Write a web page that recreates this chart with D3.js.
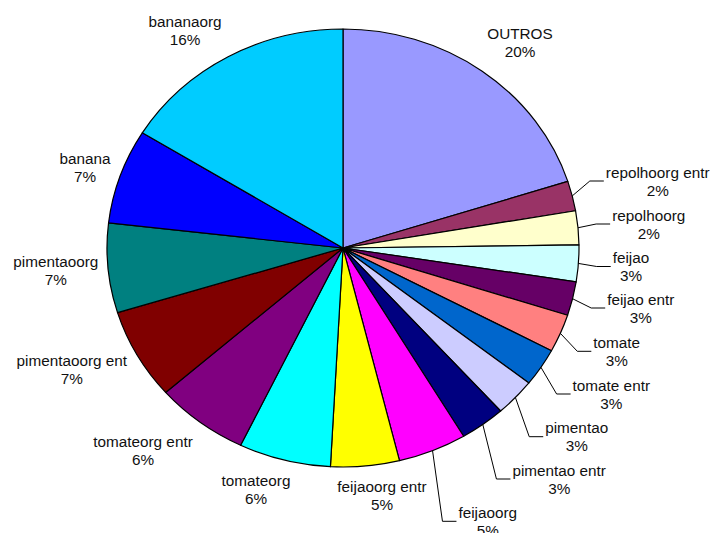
<!DOCTYPE html>
<html><head><meta charset="utf-8">
<script src="https://cdn.jsdelivr.net/npm/d3@7"></script>
<style>html,body{margin:0;padding:0;background:#fff;}svg{display:block;}</style>
</head><body>
<svg id="c" width="712" height="533"></svg>
<script>
// Data (clockwise from 12 o'clock)
const categories = ["OUTROS","repolhoorg entr","repolhoorg","feijao","feijao entr","tomate","tomate entr","pimentao","pimentao entr","feijaoorg","feijaoorg entr","tomateorg","tomateorg entr","pimentaoorg ent","pimentaoorg","banana","bananaorg"];
const values = [20.1,2.2,2.5,2.7,2.5,2.8,2.8,2.8,3.1,4.7,4.7,6.3,6.4,6.7,6.6,7.0,16.2];
const pctLabels = ["20%","2%","2%","3%","3%","3%","3%","3%","3%","5%","5%","6%","6%","7%","7%","7%","16%"];
const colors = ["#9999FF","#993366","#FFFFCC","#CCFFFF","#660066","#FF8080","#0066CC","#CCCCFF","#000080","#FF00FF","#FFFF00","#00FFFF","#800080","#800000","#008080","#0000FF","#00CCFF"];

// Layout (label centres of first line; leader flag)
const labelLayout = [
  {x:520,y:33,lead:false},{x:657.7,y:172,lead:true},{x:648.7,y:215,lead:true},{x:631,y:257.5,lead:true},
  {x:640.8,y:299,lead:true},{x:616.7,y:342.3,lead:true},{x:611.3,y:385,lead:true},{x:576.7,y:427.7,lead:true},
  {x:559.2,y:470,lead:true},{x:487.8,y:512.3,lead:true},{x:382,y:486.7,lead:false},{x:256,y:480,lead:false},
  {x:143,y:441.7,lead:false},{x:71.8,y:360,lead:false},{x:55.8,y:261.7,lead:false},{x:85,y:158.3,lead:false},
  {x:185,y:21.7,lead:false}
];

const cx=343, cy=248, rx=236, ry=219;
const svg=d3.select("#c");
const pie=d3.pie().sort(null).value(d=>d);
const arcs=pie(values);
const arc=d3.arc().innerRadius(0).outerRadius(ry);

const g=svg.append("g").attr("transform",`translate(${cx},${cy}) scale(${rx/ry},1)`);
g.selectAll("path").data(arcs).join("path")
  .attr("d",arc).attr("fill",(d,i)=>colors[i])
  .attr("stroke","#000").attr("stroke-width",1.2)
  .attr("vector-effect","non-scaling-stroke").attr("stroke-linejoin","round");

const font="'Liberation Sans', Arial, sans-serif";
const lg=svg.append("g");
arcs.forEach((d,i)=>{
  const L=labelLayout[i];
  const t=lg.append("g");
  const t1=t.append("text").attr("x",L.x).attr("y",L.y).attr("text-anchor","middle")
    .attr("dominant-baseline","central").attr("font-family",font).attr("font-size","15.3px").attr("fill","#111").text(categories[i]);
  const t2=t.append("text").attr("x",L.x).attr("y",L.y+18).attr("text-anchor","middle")
    .attr("dominant-baseline","central").attr("font-family",font).attr("font-size","15.3px").attr("fill","#111").text(pctLabels[i]);
  if(L.lead){
    const w=Math.max(t1.node().getComputedTextLength(),t2.node().getComputedTextLength());
    const left=L.x-w/2;
    const my=L.y+9;
    const a=(d.startAngle+d.endAngle)/2;
    const ex=cx+rx*Math.sin(a), ey=cy-ry*Math.cos(a);
    lg.append("path").attr("d",`M${ex},${ey}L${left-16},${my}L${left-2},${my}`)
      .attr("fill","none").attr("stroke","#000").attr("stroke-width",1);
  }
});
</script>
</body></html>
